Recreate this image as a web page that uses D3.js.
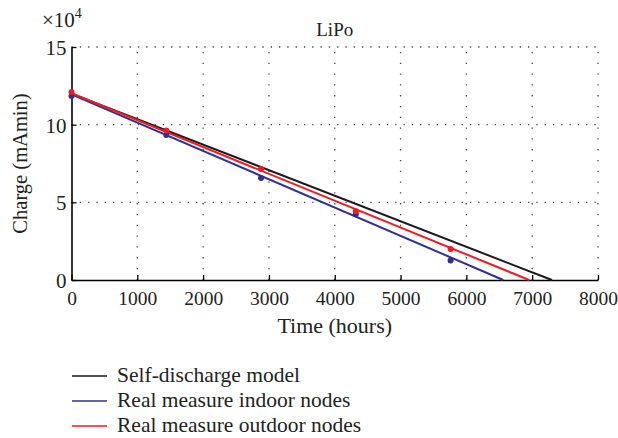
<!DOCTYPE html>
<html>
<head>
<meta charset="utf-8">
<script src="https://cdn.jsdelivr.net/npm/d3@7"></script>
<style>
  body { margin: 0; background: #fff; }
  svg { font-family: "Liberation Serif", "DejaVu Serif", serif; }
</style>
</head>
<body>
<svg width="618" height="438"></svg>
<script>
// measurement times (hours) and charge (x10^4 mAmin)
const times = [0, 1440, 2880, 4320, 5760];
const indoorPoints = [11.84, 9.34, 6.57, 4.23, 1.25];
const outdoorPoints = [12.1, 9.63, 7.15, 4.42, 1.99];

// straight lines: [start time, start charge], [end time, end charge]
const modelLine = [[0, 12.0], [7300, 0]];
const indoorLine = [[0, 11.95], [6560, 0]];
const outdoorLine = [[0, 12.02], [6955, 0]];

const xTicks = [0, 1000, 2000, 3000, 4000, 5000, 6000, 7000, 8000];
const yTicks = [0, 5, 10, 15];

const legendLabels = ["Self-discharge model", "Real measure indoor nodes", "Real measure outdoor nodes"];

const colors = { model: "#1a1a1a", indoor: "#2e3192", outdoor: "#ed1c24" };

const svg = d3.select("svg");

const xScale = d3.scaleLinear().domain([0, 8000]).range([71.5, 598]);
const yScale = d3.scaleLinear().domain([0, 15]).range([280, 47]);

// grid
const grid = svg.append("g").attr("stroke", "#444").attr("stroke-width", 1.3);
grid.selectAll(".vgrid")
	.data(xTicks.slice(1))
	.enter()
	.append("line")
	.attr("x1", (d) => xScale(d))
	.attr("x2", (d) => xScale(d))
	.attr("y1", yScale(0))
	.attr("y2", yScale(15))
	.attr("stroke-dasharray", "1.3,9.5");
grid.selectAll(".hgrid")
	.data(yTicks.slice(1))
	.enter()
	.append("line")
	.attr("x1", xScale(0))
	.attr("x2", xScale(8000))
	.attr("y1", (d) => yScale(d))
	.attr("y2", (d) => yScale(d))
	.attr("stroke-dasharray", "1.3,7");

// axes (inward ticks)
const xAxis = svg.append("g")
	.attr("transform", `translate(0,${yScale(0)})`)
	.call(d3.axisBottom(xScale).tickValues(xTicks).tickFormat(d3.format("d"))
		.tickSizeInner(-5).tickSizeOuter(0).tickPadding(11));
const yAxis = svg.append("g")
	.attr("transform", `translate(${xScale(0)},0)`)
	.call(d3.axisLeft(yScale).tickValues(yTicks).tickFormat(d3.format("d"))
		.tickSizeInner(-5).tickSizeOuter(0).tickPadding(5));

[xAxis, yAxis].forEach((ax) => {
	ax.select(".domain").attr("stroke", "#000").attr("stroke-width", 1.6);
	ax.selectAll(".tick line").attr("stroke", "#000").attr("stroke-width", 1.3);
	ax.selectAll(".tick text")
		.attr("fill", "#222")
		.style("font-family", "'Liberation Serif', serif")
		.style("font-size", "19.5px");
});
yAxis.selectAll(".tick text").style("font-size", "21px").attr("dy", "0.36em");

// lines
const line = d3.line().x((d) => xScale(d[0])).y((d) => yScale(d[1]));
[[modelLine, colors.model], [indoorLine, colors.indoor], [outdoorLine, colors.outdoor]].forEach(([data, c]) => {
	svg.append("path")
		.datum(data)
		.attr("d", line)
		.attr("fill", "none")
		.attr("stroke", c)
		.attr("stroke-width", 2);
});

// points
[[indoorPoints, colors.indoor], [outdoorPoints, colors.outdoor]].forEach(([vals, c]) => {
	svg.selectAll(null)
		.data(vals)
		.enter()
		.append("circle")
		.attr("cx", (d, i) => xScale(times[i]))
		.attr("cy", (d) => yScale(d))
		.attr("r", 3)
		.attr("fill", c);
});

// texts
svg.append("text")
	.attr("x", (xScale(0) + xScale(8000)) / 2)
	.attr("y", 36)
	.attr("text-anchor", "middle")
	.attr("fill", "#222")
	.style("font-size", "19px")
	.text("LiPo");

const exp = svg.append("text")
	.attr("x", 42)
	.attr("y", 27)
	.attr("fill", "#222")
	.style("font-size", "21px");
exp.append("tspan").text("×10");
exp.append("tspan").attr("dy", -9).style("font-size", "14px").text("4");

svg.append("text")
	.attr("x", (xScale(0) + xScale(8000)) / 2)
	.attr("y", 333)
	.attr("text-anchor", "middle")
	.attr("fill", "#222")
	.style("font-size", "22px")
	.text("Time (hours)");

svg.append("text")
	.attr("transform", `translate(27,${(yScale(0) + yScale(15)) / 2}) rotate(-90)`)
	.attr("text-anchor", "middle")
	.attr("fill", "#222")
	.style("font-size", "20.5px")
	.text("Charge (mAmin)");

// legend
const legend = svg.append("g");
const legendColors = [colors.model, colors.indoor, colors.outdoor];
const legendY = [376, 401, 426];
legend.selectAll("line")
	.data(legendLabels)
	.enter()
	.append("line")
	.attr("x1", 72)
	.attr("x2", 107)
	.attr("y1", (d, i) => legendY[i])
	.attr("y2", (d, i) => legendY[i])
	.attr("stroke", (d, i) => legendColors[i])
	.attr("stroke-width", 1.5);
legend.selectAll("text")
	.data(legendLabels)
	.enter()
	.append("text")
	.attr("x", 117)
	.attr("y", (d, i) => legendY[i] + 6)
	.attr("fill", "#222")
	.style("font-size", "21.5px")
	.text((d) => d);
</script>
</body>
</html>
